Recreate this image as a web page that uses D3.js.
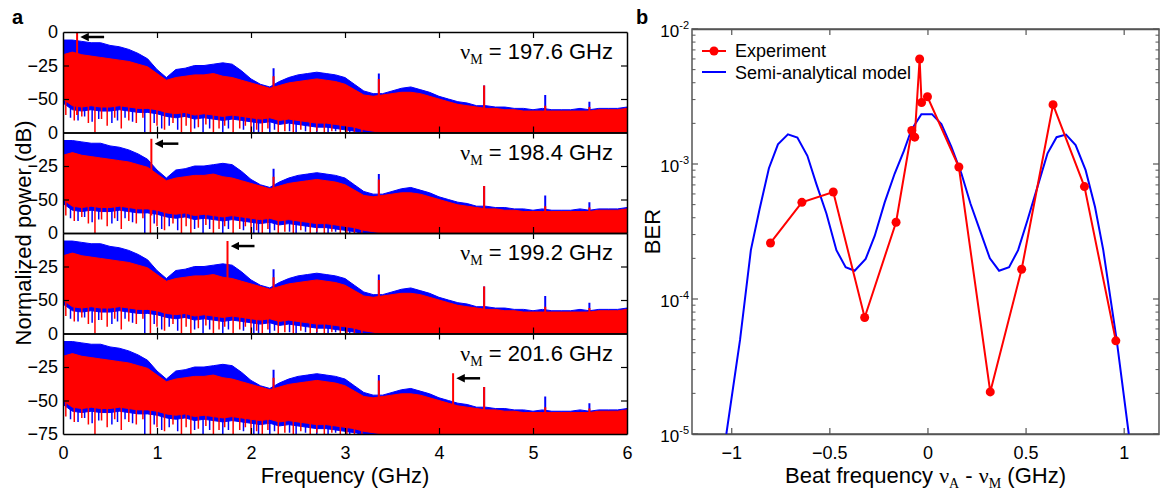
<!DOCTYPE html>
<html lang="en">
<head>
<meta charset="utf-8">
<title>Spectra and BER</title>
<script src="https://cdn.jsdelivr.net/npm/d3@7"></script>
<style>
    body {
        margin: 0;
        padding: 0;
        background-color: #ffffff;
        font-family: "Liberation Sans", Arial, sans-serif;
    }
    .tick-label { font-size: 18px; }
    .axis-title { font-size: 22px; }
    .nu { font-family: "Liberation Serif", "Times New Roman", serif; }
</style>
</head>
<body>
<svg width="1164" height="491" id="chart"></svg>
<script>
// ---------- panel a: RF spectra (envelopes, dB) ----------
var freqGHz = [0, 0.1, 0.2, 0.3, 0.4, 0.5, 0.6, 0.7, 0.8, 0.9,
               1.0, 1.1, 1.2, 1.3, 1.4, 1.5, 1.6, 1.7, 1.8, 1.9,
               2.0, 2.1, 2.2, 2.3, 2.4, 2.5, 2.6, 2.7, 2.8, 2.9,
               3.0, 3.1, 3.2, 3.3, 3.4, 3.5, 3.6, 3.7, 3.8, 3.9,
               4.0, 4.1, 4.2, 4.3, 4.4, 4.5, 4.6, 4.7, 4.8, 4.9,
               5.0, 5.1, 5.2, 5.3, 5.4, 5.5, 5.6, 5.7, 5.8, 5.9, 6.0];
var blueTop = [-6, -6, -7, -8, -8, -10, -11, -13, -16, -20,
               -28, -34, -28, -27, -25, -25, -24, -23, -24, -29,
               -35, -39, -41, -37, -34, -32, -31, -30, -31, -32,
               -34, -39, -44, -46, -46, -44, -42, -41, -43, -45,
               -48, -50, -52, -53, -55, -55, -56, -56, -57, -57,
               -58, -57, -58, -58, -58, -57, -58, -57, -57, -57, -56];
var redTop = [-17, -15, -17, -18, -19, -20, -21, -22, -24, -26,
              -31, -36, -34, -33, -32, -32, -31, -33, -34, -36,
              -38, -40, -42, -40, -38, -37, -36, -35, -36, -37,
              -39, -43, -47, -48, -47, -46, -45, -45, -46, -48,
              -50, -52, -54, -55, -56, -57, -57, -58, -58, -59,
              -59, -59, -59, -59, -59, -59, -59, -58, -58, -58, -57];
var redLow = [-50, -55, -56, -55, -56, -56, -55, -56, -57, -57,
              -58, -60, -61, -60, -62, -61, -62, -63, -62, -63,
              -64, -65, -64, -66, -65, -66, -67, -68, -68, -69,
              -70, -71, -73, -74, -75, -75, -75, -75, -75, -75,
              -75, -75, -75, -75, -75, -75, -75, -75, -75, -75,
              -75, -75, -75, -75, -75, -75, -75, -75, -75, -75, -75];
var blueLow = [-53, -58, -59, -58, -59, -59, -58, -59, -60, -60,
               -61, -63, -64, -63, -65, -64, -65, -66, -65, -66,
               -67, -68, -67, -69, -68, -69, -70, -71, -71, -72,
               -73, -74, -75, -75, -75, -75, -75, -75, -75, -75,
               -75, -75, -75, -75, -75, -75, -75, -75, -75, -75,
               -75, -75, -75, -75, -75, -75, -75, -75, -75, -75, -75];
// downward noise spikes: [frequency, depth]
var redDips = [[0.03, -62], [0.12, -66], [0.2, -63], [0.27, -68], [0.34, -75], [0.41, -65],
               [0.47, -70], [0.55, -64], [0.62, -72], [0.7, -66], [0.78, -68], [0.85, -64],
               [0.93, -75], [1.0, -70], [1.08, -73], [1.17, -68], [1.26, -75], [1.31, -70],
               [1.36, -75], [1.44, -71], [1.52, -69], [1.6, -75], [1.66, -72], [1.72, -70],
               [1.81, -75], [1.88, -72], [1.94, -70], [2.0, -75], [2.06, -73], [2.12, -75],
               [2.18, -72], [2.29, -75], [2.36, -74], [2.45, -75], [2.53, -73], [2.63, -75],
               [2.7, -74], [2.78, -75], [2.86, -74], [2.95, -75], [3.02, -75], [3.1, -75], [3.18, -75]];
var blueDips = [[0.08, -64], [0.16, -66], [0.23, -63], [0.31, -67], [0.38, -65], [0.52, -68],
                [0.58, -66], [0.66, -64], [0.74, -67], [0.87, -75], [0.97, -68], [1.05, -72],
                [1.13, -70], [1.22, -73], [1.4, -72], [1.49, -75], [1.56, -72], [1.7, -75],
                [1.76, -72], [1.92, -73], [2.03, -75], [2.08, -75], [2.2, -75], [2.25, -73],
                [2.41, -74], [2.48, -75], [2.58, -74], [2.7, -75], [2.82, -75], [2.9, -74],
                [3.05, -75], [3.14, -75]];
// narrow tones common to all four spectra
var toneFreq = [2.24, 3.36, 4.48, 5.13, 5.6];
var toneBlue = [-27, -31, -40, -47, -52];
var toneRed = [-33, -35, -40, -55, -56];
// marked beat tone in each panel
var nuM = ["197.6", "198.4", "199.2", "201.6"];
var markerFreq = [0.15, 0.94, 1.75, 4.15];
var markerPower = [0, -4.6, -6, -29.7];

// ---------- panel b: BER vs beat frequency ----------
var expDetuning = [-0.8, -0.64, -0.48, -0.32, -0.16, -0.08, -0.065, -0.04, -0.03, 0,
                   0.16, 0.32, 0.48, 0.64, 0.8, 0.96];
var expBER = [2.6e-4, 5.2e-4, 6.2e-4, 7.3e-5, 3.7e-4, 1.77e-3, 1.58e-3, 6.0e-3, 2.85e-3, 3.15e-3,
              9.5e-4, 2.05e-5, 1.66e-4, 2.75e-3, 6.8e-4, 4.9e-5];
var modelDetuning = [-1.025, -0.955, -0.9, -0.856, -0.808, -0.762, -0.711, -0.663, -0.612, -0.566,
                     -0.515, -0.464, -0.417, -0.371, -0.315, -0.269, -0.218, -0.167, -0.12, -0.082,
                     -0.031, 0.023, 0.071, 0.122, 0.173, 0.219, 0.267, 0.318, 0.365, 0.416,
                     0.462, 0.51, 0.561, 0.612, 0.658, 0.706, 0.755, 0.806, 0.854, 0.896,
                     0.964, 1.026];
var modelBER = [1e-5, 5e-5, 2.3e-4, 4.6e-4, 9.3e-4, 1.40e-3, 1.66e-3, 1.57e-3, 1.15e-3, 7.1e-4,
                4.3e-4, 2.3e-4, 1.72e-4, 1.62e-4, 1.98e-4, 2.93e-4, 5.2e-4, 8.5e-4, 1.25e-3, 1.79e-3,
                2.34e-3, 2.34e-3, 1.98e-3, 1.34e-3, 8.5e-4, 5.1e-4, 3.24e-4, 2.0e-4, 1.62e-4, 1.72e-4,
                2.3e-4, 3.85e-4, 6.8e-4, 1.2e-3, 1.58e-3, 1.65e-3, 1.38e-3, 9.0e-4, 4.8e-4, 2.3e-4,
                5.0e-5, 1e-5];

var svg = d3.select("#chart");
var BLUE = "#0000ff", RED = "#ff0000";

// arrowhead
svg.append("defs").append("marker")
    .attr("id", "head")
    .attr("viewBox", "0 0 10 10")
    .attr("refX", 2).attr("refY", 5)
    .attr("markerWidth", 3.4).attr("markerHeight", 3.4)
    .attr("orient", "auto")
    .append("path").attr("d", "M0,0 L10,5 L0,10 Z").attr("fill", "#000");

// ================= panel a =================
var aLeft = 63, aRight = 627, aTop = 32, aBottom = 434;
var panelH = (aBottom - aTop) / 4;
var x = d3.scaleLinear().domain([0, 6]).range([aLeft, aRight]);

var spectra = freqGHz.map(function(f, i) {
    return {f: f, bt: blueTop[i], rt: redTop[i], bl: blueLow[i], rl: redLow[i]};
});

nuM.forEach(function(label, p) {
    var top = aTop + p * panelH;
    var y = d3.scaleLinear().domain([-75, 0]).range([top + panelH, top]);
    var g = svg.append("g");

    g.append("clipPath").attr("id", "clipA" + p)
        .append("rect").attr("x", aLeft).attr("y", top).attr("width", aRight - aLeft).attr("height", panelH);
    var plot = g.append("g").attr("clip-path", "url(#clipA" + p + ")");

    var blueArea = d3.area().x(function(d) { return x(d.f); })
        .y0(function(d) { return y(d.bl); }).y1(function(d) { return y(d.bt); });
    var redArea = d3.area().x(function(d) { return x(d.f); })
        .y0(function(d) { return y(d.rl); }).y1(function(d) { return y(d.rt); });

    // blue trace first, red drawn over it
    plot.append("path").datum(spectra).attr("d", blueArea).attr("fill", BLUE).attr("stroke", BLUE).attr("stroke-width", 1);
    plot.selectAll(".bdip").data(blueDips).enter().append("line")
        .attr("x1", function(d) { return x(d[0]); }).attr("x2", function(d) { return x(d[0]); })
        .attr("y1", y(-50)).attr("y2", function(d) { return y(d[1]); })
        .attr("stroke", BLUE).attr("stroke-width", 1.5);
    toneFreq.forEach(function(f, i) {
        plot.append("line").attr("x1", x(f)).attr("x2", x(f))
            .attr("y1", y(-60)).attr("y2", y(toneBlue[i]))
            .attr("stroke", BLUE).attr("stroke-width", 2);
    });

    plot.append("path").datum(spectra).attr("d", redArea).attr("fill", RED).attr("stroke", RED).attr("stroke-width", 1);
    plot.selectAll(".rdip").data(redDips).enter().append("line")
        .attr("x1", function(d) { return x(d[0]); }).attr("x2", function(d) { return x(d[0]); })
        .attr("y1", y(-50)).attr("y2", function(d) { return y(d[1]); })
        .attr("stroke", RED).attr("stroke-width", 1.5);
    toneFreq.forEach(function(f, i) {
        plot.append("line").attr("x1", x(f)).attr("x2", x(f))
            .attr("y1", y(-60)).attr("y2", y(toneRed[i]))
            .attr("stroke", RED).attr("stroke-width", 2);
    });

    // marked tone and arrow
    var mx = x(markerFreq[p]), my = y(markerPower[p]);
    plot.append("line").attr("x1", mx).attr("x2", mx)
        .attr("y1", y(-62)).attr("y2", my)
        .attr("stroke", RED).attr("stroke-width", 2);
    g.append("line")
        .attr("x1", mx + 27).attr("x2", mx + 10)
        .attr("y1", my + 5).attr("y2", my + 5)
        .attr("stroke", "#000").attr("stroke-width", 2.5)
        .attr("marker-end", "url(#head)");

    // frame and ticks
    var yTicks = p === 3 ? [0, -25, -50, -75] : [0, -25, -50];
    var axL = g.append("g").attr("transform", "translate(" + aLeft + ",0)")
        .call(d3.axisLeft(y).tickValues(yTicks).tickSizeInner(-6).tickSizeOuter(0).tickPadding(5));
    g.append("g").attr("transform", "translate(" + aRight + ",0)")
        .call(d3.axisRight(y).tickValues([-25, -50]).tickSizeInner(-6).tickSizeOuter(0).tickFormat(""));
    g.append("g").attr("transform", "translate(0," + top + ")")
        .call(d3.axisTop(x).tickValues([1, 2, 3, 4, 5]).tickSizeInner(-6).tickSizeOuter(0).tickFormat(""));
    var axB = g.append("g").attr("transform", "translate(0," + (top + panelH) + ")")
        .call(d3.axisBottom(x).tickValues(p === 3 ? [0, 1, 2, 3, 4, 5, 6] : [1, 2, 3, 4, 5])
            .tickSizeInner(-6).tickSizeOuter(0).tickPadding(12).tickFormat(p === 3 ? d3.format("d") : ""));
    axL.selectAll(".tick line").filter(function(d) { return d === 0 || d === -75; }).remove();
    axB.selectAll(".tick line").filter(function(d) { return d === 0 || d === 6; }).remove();
    g.selectAll(".domain").attr("stroke", "#000").attr("stroke-width", 1.5);
    g.selectAll(".tick line").attr("stroke", "#000").attr("stroke-width", 1.2);
    g.selectAll(".tick text").attr("class", "tick-label").attr("fill", "#000")
        .attr("font-family", null).attr("font-size", null);

    var lab = g.append("text").attr("x", 613).attr("y", top + 27)
        .attr("text-anchor", "end").attr("font-size", 22);
    lab.append("tspan").attr("class", "nu").text("\u03bd");
    lab.append("tspan").attr("class", "nu").attr("font-size", 14).attr("dy", 5).text("M");
    lab.append("tspan").attr("dy", -5).text(" = " + label + " GHz");
});

svg.append("text").attr("class", "axis-title").attr("x", (aLeft + aRight) / 2).attr("y", 483)
    .attr("text-anchor", "middle").text("Frequency (GHz)");
svg.append("text").attr("class", "axis-title")
    .attr("transform", "translate(31," + (aTop + aBottom) / 2 + ") rotate(-90)")
    .attr("text-anchor", "middle").text("Normalized power (dB)");
svg.append("text").attr("x", 12).attr("y", 24).attr("font-size", 20).attr("font-weight", "bold").text("a");

// ================= panel b =================
var bLeft = 692, bRight = 1159, bTop = 29, bBottom = 434;
var AX = "#555555";
var xb = d3.scaleLinear().domain([-1.2, 1.18]).range([bLeft, bRight]);
var yb = d3.scaleLog().domain([1e-5, 1e-2]).range([bBottom, bTop]);
var gb = svg.append("g");

gb.append("clipPath").attr("id", "clipB")
    .append("rect").attr("x", bLeft).attr("y", bTop).attr("width", bRight - bLeft).attr("height", bBottom - bTop);

var xTicksB = [-1, -0.5, 0, 0.5, 1];
gb.append("g").attr("transform", "translate(0," + bBottom + ")")
    .call(d3.axisBottom(xb).tickValues(xTicksB).tickSizeInner(-6).tickSizeOuter(0).tickPadding(12)
        .tickFormat(function(d) { return d === 0 ? "0" : (Math.abs(d) === 1 ? d3.format("d")(d) : d3.format(".1f")(d)); }));
gb.append("g").attr("transform", "translate(0," + bTop + ")")
    .call(d3.axisTop(xb).tickValues(xTicksB).tickSizeInner(-6).tickSizeOuter(0).tickFormat(""));

var decades = [1e-5, 1e-4, 1e-3, 1e-2];
var minors = [];
decades.slice(0, 3).forEach(function(dv) {
    [2, 3, 4, 5, 6, 7, 8, 9].forEach(function(m) { minors.push(dv * m); });
});
[bLeft, bRight].forEach(function(ax, k) {
    var dir = k === 0 ? 1 : -1;
    gb.selectAll(null).data(decades).enter().append("line")
        .attr("x1", ax).attr("x2", ax + dir * 6)
        .attr("y1", function(d) { return yb(d); }).attr("y2", function(d) { return yb(d); })
        .attr("stroke", AX).attr("stroke-width", 1.2);
    gb.selectAll(null).data(minors).enter().append("line")
        .attr("x1", ax).attr("x2", ax + dir * 3.5)
        .attr("y1", function(d) { return yb(d); }).attr("y2", function(d) { return yb(d); })
        .attr("stroke", AX).attr("stroke-width", 1);
});
gb.append("rect").attr("x", bLeft).attr("y", bTop).attr("width", bRight - bLeft).attr("height", bBottom - bTop)
    .attr("fill", "none").attr("stroke", AX).attr("stroke-width", 1.5);
gb.selectAll(".domain").attr("stroke", AX).attr("stroke-width", 1.5);
gb.selectAll(".tick line").attr("stroke", AX).attr("stroke-width", 1.2);
gb.selectAll(".tick text").attr("class", "tick-label").attr("fill", "#000")
    .attr("font-family", null).attr("font-size", null);

decades.forEach(function(dv) {
    var t = gb.append("text").attr("x", bLeft - 3).attr("y", yb(dv) + 8)
        .attr("text-anchor", "end").attr("font-size", 17);
    t.append("tspan").text("10");
    t.append("tspan").attr("font-size", 11).attr("dy", -8).text(String(Math.round(Math.log10(dv))));
});

var plotB = gb.append("g").attr("clip-path", "url(#clipB)");
var model = modelDetuning.map(function(d, i) { return [d, modelBER[i]]; });
var expt = expDetuning.map(function(d, i) { return [d, expBER[i]]; });
var lineB = d3.line().x(function(d) { return xb(d[0]); }).y(function(d) { return yb(d[1]); });

plotB.append("path").datum(model).attr("d", lineB)
    .attr("fill", "none").attr("stroke", BLUE).attr("stroke-width", 2);
plotB.append("path").datum(expt).attr("d", lineB)
    .attr("fill", "none").attr("stroke", RED).attr("stroke-width", 2);
plotB.selectAll(".pt").data(expt).enter().append("circle")
    .attr("cx", function(d) { return xb(d[0]); }).attr("cy", function(d) { return yb(d[1]); })
    .attr("r", 4.5).attr("fill", RED);

// legend
var leg = gb.append("g");
leg.append("line").attr("x1", 702).attr("x2", 726).attr("y1", 51).attr("y2", 51)
    .attr("stroke", RED).attr("stroke-width", 2);
leg.append("circle").attr("cx", 714).attr("cy", 51).attr("r", 4.5).attr("fill", RED);
leg.append("text").attr("x", 735).attr("y", 57).attr("font-size", 18).text("Experiment");
leg.append("line").attr("x1", 702).attr("x2", 726).attr("y1", 72).attr("y2", 72)
    .attr("stroke", BLUE).attr("stroke-width", 2);
leg.append("text").attr("x", 735).attr("y", 79).attr("font-size", 18).text("Semi-analytical model");

var xt = svg.append("text").attr("class", "axis-title").attr("x", (bLeft + bRight) / 2).attr("y", 483)
    .attr("text-anchor", "middle");
xt.append("tspan").text("Beat frequency ");
xt.append("tspan").attr("class", "nu").text("\u03bd");
xt.append("tspan").attr("class", "nu").attr("font-size", 14).attr("dy", 5).text("A");
xt.append("tspan").attr("dy", -5).text(" - ");
xt.append("tspan").attr("class", "nu").text("\u03bd");
xt.append("tspan").attr("class", "nu").attr("font-size", 14).attr("dy", 5).text("M");
xt.append("tspan").attr("dy", -5).text(" (GHz)");

svg.append("text").attr("class", "axis-title")
    .attr("transform", "translate(660," + (bTop + bBottom) / 2 + ") rotate(-90)")
    .attr("text-anchor", "middle").text("BER");
svg.append("text").attr("x", 636).attr("y", 24).attr("font-size", 20).attr("font-weight", "bold").text("b");
</script>
</body>
</html>
